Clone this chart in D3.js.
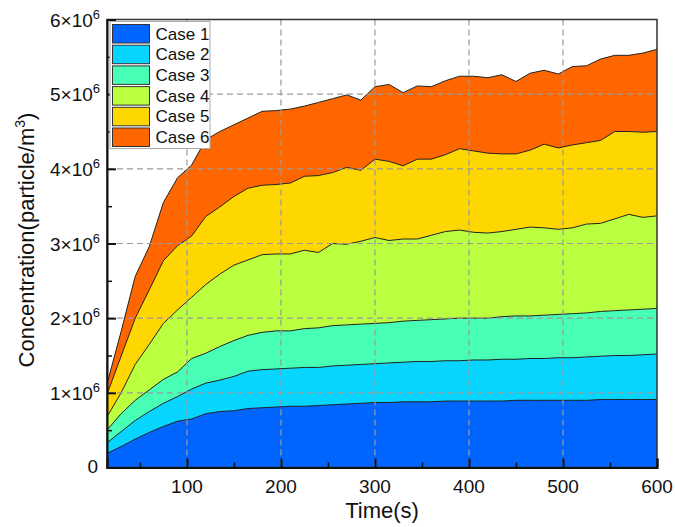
<!DOCTYPE html>
<html>
<head>
<meta charset="utf-8">
<script src="https://cdn.jsdelivr.net/npm/d3@7"></script>
<style>
  body { margin: 0; background: #fff; }
  text { font-family: "Liberation Sans", Arial, sans-serif; fill: #111; }
</style>
</head>
<body>
<svg></svg>
<script>
// time (s)
const time = [15,30,45,60,75,90,105,120,135,150,165,180,195,210,225,240,255,270,285,300,
              315,330,345,360,375,390,405,420,435,450,465,480,495,510,525,540,555,570,585,600]

// concentration in 10^6 particle/m3
const case1 = [0.19,0.28,0.38,0.47,0.55,0.62,0.65,0.72,0.75,0.76,0.79,0.80,0.81,0.82,0.82,0.83,0.84,0.85,0.86,0.87,
               0.87,0.88,0.88,0.88,0.89,0.89,0.89,0.89,0.89,0.90,0.90,0.90,0.90,0.90,0.90,0.91,0.91,0.91,0.91,0.91]
const case2 = [0.33,0.48,0.63,0.75,0.86,0.95,1.05,1.13,1.17,1.22,1.29,1.31,1.32,1.33,1.34,1.34,1.36,1.37,1.38,1.39,
               1.40,1.41,1.42,1.42,1.43,1.43,1.44,1.44,1.45,1.45,1.46,1.46,1.47,1.47,1.48,1.49,1.50,1.50,1.51,1.52]
const case3 = [0.50,0.72,0.90,1.04,1.18,1.28,1.46,1.53,1.62,1.70,1.77,1.81,1.83,1.83,1.86,1.87,1.90,1.91,1.92,1.93,
               1.94,1.96,1.97,1.98,1.99,2.00,2.00,2.00,2.02,2.03,2.03,2.04,2.05,2.06,2.07,2.09,2.10,2.11,2.12,2.13]
const case4 = [0.68,1.00,1.38,1.65,1.93,2.11,2.28,2.45,2.59,2.71,2.78,2.85,2.86,2.86,2.91,2.88,3.00,2.99,3.03,3.08,
               3.04,3.06,3.06,3.11,3.16,3.18,3.15,3.14,3.16,3.19,3.22,3.21,3.19,3.21,3.26,3.27,3.33,3.39,3.35,3.37]
const case5 = [0.98,1.49,2.00,2.38,2.77,2.97,3.10,3.36,3.49,3.63,3.74,3.78,3.79,3.81,3.90,3.91,3.95,4.02,3.98,4.13,
               4.10,4.04,4.13,4.13,4.19,4.27,4.24,4.21,4.20,4.20,4.25,4.33,4.28,4.32,4.35,4.38,4.50,4.50,4.49,4.50]
const case6 = [1.12,1.82,2.56,2.96,3.55,3.88,4.05,4.39,4.50,4.59,4.68,4.77,4.78,4.80,4.84,4.89,4.94,4.99,4.92,5.10,
               5.13,5.02,5.11,5.10,5.18,5.24,5.24,5.22,5.26,5.17,5.28,5.32,5.27,5.37,5.38,5.47,5.52,5.52,5.55,5.60]

const names = ["Case 1", "Case 2", "Case 3", "Case 4", "Case 5", "Case 6"]
const colors = ["#0064FF", "#05D5FF", "#48FFB6", "#BAFF40", "#FFD700", "#FF6600"]
const yTicks = [0, 1, 2, 3, 4, 5, 6]
const xTicks = [100, 200, 300, 400, 500, 600]

const series = [case1, case2, case3, case4, case5, case6]

const width = 675
const height = 527
const mLeft = 107, mRight = 657, mTop = 19.5, mBottom = 467.5

const svg = d3.select("svg")
      .attr("width", width)
      .attr("height", height)

const x = d3.scaleLinear().domain([15, 600]).range([mLeft, mRight])
const y = d3.scaleLinear().domain([0, 6]).range([mBottom, mTop])

const area = d3.area()
      .x((d, i) => x(time[i]))
      .y0(y(0))
      .y1(d => y(d))

const line = d3.line()
      .x((d, i) => x(time[i]))
      .y(d => y(d))

// biggest case drawn first, so smaller ones sit on top
const order = [5, 4, 3, 2, 1, 0]

svg.append("g")
      .selectAll("path")
      .data(order)
      .join("path")
      .attr("d", k => area(series[k]))
      .attr("fill", k => colors[k])

svg.append("g")
      .selectAll("path")
      .data(order)
      .join("path")
      .attr("d", k => line(series[k]))
      .attr("fill", "none")
      .attr("stroke", "#222")
      .attr("stroke-width", 1)

// dashed grid on top of the fills
const grid = svg.append("g")
      .attr("stroke", "#9a9a9a")
      .attr("stroke-width", 1.2)
      .attr("stroke-dasharray", "6,4")

grid.selectAll(".gx")
      .data(xTicks.filter(d => d < 600))
      .join("line")
      .attr("x1", d => x(d)).attr("x2", d => x(d))
      .attr("y1", mTop).attr("y2", mBottom)

grid.selectAll(".gy")
      .data(yTicks.filter(d => d > 0 && d < 6))
      .join("line")
      .attr("x1", mLeft).attr("x2", mRight)
      .attr("y1", d => y(d)).attr("y2", d => y(d))

// frame
svg.append("rect")
      .attr("x", mLeft).attr("y", mTop)
      .attr("width", mRight - mLeft).attr("height", mBottom - mTop)
      .attr("fill", "none")
      .attr("stroke", "#333")
      .attr("stroke-width", 1.5)

// x axis, ticks pointing inward
const xAxis = svg.append("g")
      .attr("transform", `translate(0,${mBottom})`)
      .call(d3.axisBottom(x).tickValues(xTicks).tickSize(-9).tickFormat(""))
xAxis.select(".domain").attr("stroke", "#111").attr("stroke-width", 2)
xAxis.selectAll(".tick line").attr("stroke", "#111").attr("stroke-width", 2)

svg.append("g")
      .attr("transform", `translate(0,${mBottom})`)
      .call(d3.axisBottom(x).tickValues([50, 150, 250, 350, 450, 550]).tickSize(-5).tickFormat(""))
      .call(g => g.select(".domain").remove())
      .selectAll(".tick line").attr("stroke", "#111").attr("stroke-width", 1.5)

svg.append("g")
      .selectAll("text")
      .data(xTicks)
      .join("text")
      .attr("x", d => x(d))
      .attr("y", mBottom + 25.5)
      .attr("text-anchor", "middle")
      .attr("font-size", 19)
      .text(d => d)

// y axis
const yAxis = svg.append("g")
      .attr("transform", `translate(${mLeft},0)`)
      .call(d3.axisLeft(y).tickValues(yTicks).tickSize(-9).tickFormat(""))
yAxis.select(".domain").attr("stroke", "#111").attr("stroke-width", 2)
yAxis.selectAll(".tick line").attr("stroke", "#111").attr("stroke-width", 2)

svg.append("g")
      .attr("transform", `translate(${mLeft},0)`)
      .call(d3.axisLeft(y).tickValues([0.5, 1.5, 2.5, 3.5, 4.5, 5.5]).tickSize(-5).tickFormat(""))
      .call(g => g.select(".domain").remove())
      .selectAll(".tick line").attr("stroke", "#111").attr("stroke-width", 1.5)

const yLab = svg.append("g")
      .selectAll("text")
      .data(yTicks)
      .join("text")
      .attr("x", d => d === 0 ? 98 : 100)
      .attr("y", d => y(d) + (d === 0 ? 5 : 7))
      .attr("text-anchor", "end")
      .attr("font-size", 19)

yLab.filter(d => d === 0).text("0")
yLab.filter(d => d > 0).each(function (d) {
      const t = d3.select(this)
      t.append("tspan").text(d + "×10")
      t.append("tspan").attr("dy", -8).attr("font-size", 13).text("6")
})

// axis titles
svg.append("text")
      .attr("x", 382)
      .attr("y", 518)
      .attr("text-anchor", "middle")
      .attr("font-size", 22)
      .text("Time(s)")

const yTitle = svg.append("text")
      .attr("transform", "translate(34,240) rotate(-90)")
      .attr("text-anchor", "middle")
      .attr("font-size", 22)
yTitle.append("tspan").text("Concentration(particle/m")
yTitle.append("tspan").attr("dy", -9).attr("font-size", 14).text("3")
yTitle.append("tspan").attr("dy", 9).text(")")

// legend
const legend = svg.append("g")

legend.append("rect")
      .attr("x", 110).attr("y", 21.5)
      .attr("width", 100).attr("height", 127)
      .attr("fill", "#fff")
      .attr("stroke", "#aaa")

const item = legend.selectAll(".item")
      .data(names)
      .join("g")
      .attr("transform", (d, i) => `translate(112.5,${24.5 + i * 20.7})`)

item.append("rect")
      .attr("width", 37).attr("height", 18.5)
      .attr("fill", (d, i) => colors[i])
      .attr("stroke", "#333")

item.append("text")
      .attr("x", 43)
      .attr("y", 15)
      .attr("font-size", 17)
      .text(d => d)
</script>
</body>
</html>
